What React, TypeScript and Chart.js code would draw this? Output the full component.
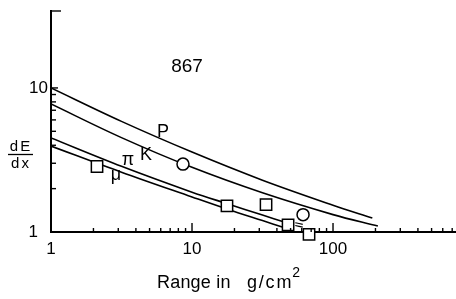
import React, { useEffect, useRef } from 'react';
import { Chart, registerables } from 'chart.js';

Chart.register(...registerables);

// Curves: dE/dx versus range (log-log)
const protonRange = [1, 3.16, 10, 31.6, 100, 190];
const protonDEdx = [10, 5.86, 3.59, 2.29, 1.535, 1.25];

const kaonRange = [1, 3.16, 10, 31.6, 100, 208];
const kaonDEdx = [7.74, 4.52, 2.81, 1.87, 1.32, 1.1];

const pionRange = [1, 3.16, 10, 17.8, 31.6, 45.7];
const pionDEdx = [4.5, 2.86, 1.89, 1.57, 1.31, 1.17];

const muonRange = [1, 3.16, 10, 17.8, 31.6, 44.2];
const muonDEdx = [3.95, 2.6, 1.75, 1.44, 1.2, 1.08];

// short dashes near the end of the light-particle curves
const dashARange = [54, 61];
const dashADEdx = [1.16, 1.13];
const dashBRange = [54, 61];
const dashBDEdx = [1.11, 1.08];

// measured points
const circleRange = [8.63, 61.3];
const circleDEdx = [2.96, 1.32];

const squareRange = [2.12, 17.7, 33.5, 48.0, 67.6];
const squareDEdx = [2.85, 1.52, 1.55, 1.12, 0.962];

// annotations
const annotText = ['867', 'P', 'K', 'π', 'μ'];
const annotRange = [9.22, 6.23, 4.72, 3.52, 2.89];
const annotDEdx = [14.0, 4.97, 3.41, 3.18, 2.49];

// axes
const xMin = 1;
const xMax = 745;
const yMin = 1;
const yMax = 34.2;
const xTickValues = [1, 10, 100];
const xTickLabels = ['1', '10', '100'];
const xMajorTicks = [10, 100];
const xMinorTicks = [2, 3, 4, 5, 6, 7, 8, 9, 20, 30, 40, 50, 60, 70, 80, 90, 200, 300, 400, 500, 600, 700];
const yTickValues = [1, 10];
const yTickLabels = ['1', '10'];
const yMajorTicks = [10];
const yMinorTicks = [2, 3, 4, 5, 6, 7, 8, 9];

const xTitle = 'Range in';
const xTitleUnit = 'g/cm';
const xTitleSup = '2';
const yTitleTop = 'dE';
const yTitleBottom = 'dx';

const FONT = '"Liberation Sans", Arial, Helvetica, sans-serif';

const pts = (xs: number[], ys: number[]) => xs.map((x, i) => ({ x, y: ys[i] }));

const decorPlugin = {
  id: 'decor',
  beforeDraw(chart: any) {
    const { ctx, width, height } = chart;
    ctx.save();
    ctx.fillStyle = '#fff';
    ctx.fillRect(0, 0, width, height);
    ctx.restore();
  },
  afterDraw(chart: any) {
    const { ctx, chartArea, scales } = chart;
    const x = scales.x;
    const y = scales.y;
    const { left, top, bottom } = chartArea;
    ctx.save();
    ctx.strokeStyle = '#000';
    ctx.fillStyle = '#000';
    ctx.lineWidth = 1.4;
    const seg = (x1: number, y1: number, x2: number, y2: number) => {
      ctx.beginPath();
      ctx.moveTo(x1, y1);
      ctx.lineTo(x2, y2);
      ctx.stroke();
    };
    // inward tick marks
    xMinorTicks.forEach((v) => {
      const px = x.getPixelForValue(v);
      seg(px, bottom, px, bottom - 4);
    });
    xMajorTicks.forEach((v) => {
      const px = x.getPixelForValue(v);
      seg(px, bottom, px, bottom - 9);
    });
    yMinorTicks.forEach((v) => {
      const py = y.getPixelForValue(v);
      seg(left, py, left + 5, py);
    });
    yMajorTicks.forEach((v) => {
      const py = y.getPixelForValue(v);
      seg(left, py, left + 7, py);
    });
    seg(left, top, left + 10, top);

    // tick labels
    ctx.font = `17px ${FONT}`;
    ctx.textAlign = 'center';
    ctx.textBaseline = 'top';
    xTickValues.forEach((v, i) => {
      ctx.fillText(xTickLabels[i], x.getPixelForValue(v), bottom + 9);
    });
    ctx.textAlign = 'right';
    ctx.textBaseline = 'middle';
    yTickValues.forEach((v, i) => {
      const off = v === 1 ? 13 : 3;
      ctx.fillText(yTickLabels[i], left - off, y.getPixelForValue(v));
    });

    // annotations
    ctx.textAlign = 'center';
    ctx.textBaseline = 'middle';
    annotText.forEach((t, i) => {
      ctx.font = `${i === 0 ? 19 : 18}px ${FONT}`;
      ctx.fillText(t, x.getPixelForValue(annotRange[i]), y.getPixelForValue(annotDEdx[i]));
    });

    // x axis title
    ctx.textAlign = 'left';
    ctx.textBaseline = 'alphabetic';
    ctx.font = `18px ${FONT}`;
    (ctx as any).letterSpacing = '0.2px';
    ctx.fillText(xTitle, 157, 288);
    (ctx as any).letterSpacing = '1.8px';
    ctx.fillText(xTitleUnit, 247, 288);
    const uw = ctx.measureText(xTitleUnit).width;
    (ctx as any).letterSpacing = '0px';
    ctx.font = `14px ${FONT}`;
    ctx.fillText(xTitleSup, 247 + uw - 1, 277);

    // y axis title as a fraction
    ctx.font = `15px ${FONT}`;
    (ctx as any).letterSpacing = '2px';
    ctx.textAlign = 'center';
    ctx.fillText(yTitleTop, 21, 151);
    ctx.fillText(yTitleBottom, 21, 168);
    (ctx as any).letterSpacing = '0px';
    ctx.lineWidth = 1.3;
    seg(8, 154.5, 33, 154.5);
    ctx.restore();
  },
};

export default function App() {
  const canvasRef = useRef<HTMLCanvasElement | null>(null);

  useEffect(() => {
    const canvas = canvasRef.current;
    if (!canvas) return;
    const curve = (xs: number[], ys: number[]) => ({
      type: 'line' as const,
      data: pts(xs, ys),
      borderColor: '#000',
      borderWidth: 1.6,
      pointRadius: 0,
      fill: false,
      tension: 0.35,
      order: 2,
    });
    const chart = new Chart(canvas, {
      type: 'line',
      data: {
        datasets: [
          {
            type: 'line',
            data: pts(circleRange, circleDEdx),
            showLine: false,
            pointStyle: 'circle',
            pointRadius: 6,
            borderColor: '#000',
            backgroundColor: '#fff',
            pointBorderWidth: 1.5,
            clip: false,
            order: 0,
          } as any,
          {
            type: 'line',
            data: pts(squareRange, squareDEdx),
            showLine: false,
            pointStyle: 'rect',
            pointRadius: 8,
            borderColor: '#000',
            backgroundColor: '#fff',
            pointBorderWidth: 1.5,
            clip: false,
            order: 0,
          } as any,
          curve(protonRange, protonDEdx),
          curve(kaonRange, kaonDEdx),
          curve(pionRange, pionDEdx),
          curve(muonRange, muonDEdx),
          { ...curve(dashARange, dashADEdx), borderWidth: 1.2 },
          { ...curve(dashBRange, dashBDEdx), borderWidth: 1.2 },
        ],
      },
      options: {
        responsive: false,
        animation: false,
        events: [],
        layout: { autoPadding: false, padding: { top: 11, right: 0, left: 0, bottom: 0 } },
        plugins: {
          legend: { display: false },
          tooltip: { enabled: false },
        },
        scales: {
          x: {
            type: 'logarithmic',
            min: xMin,
            max: xMax,
            ticks: { display: false },
            grid: { display: false },
            border: { display: true, color: '#000', width: 2 },
            afterFit: (s: any) => {
              s.height = 67;
            },
          },
          y: {
            type: 'logarithmic',
            min: yMin,
            max: yMax,
            ticks: { display: false },
            grid: { display: false },
            border: { display: true, color: '#000', width: 2 },
            afterFit: (s: any) => {
              s.width = 51;
            },
          },
        },
      },
      plugins: [decorPlugin],
    } as any);
    return () => chart.destroy();
  }, []);

  return (
    <div style={{ position: 'fixed', left: 0, top: 0, width: 456, height: 299, background: '#fff' }}>
      <canvas ref={canvasRef} width={456} height={299} style={{ display: 'block', width: 456, height: 299 }} />
    </div>
  );
}
